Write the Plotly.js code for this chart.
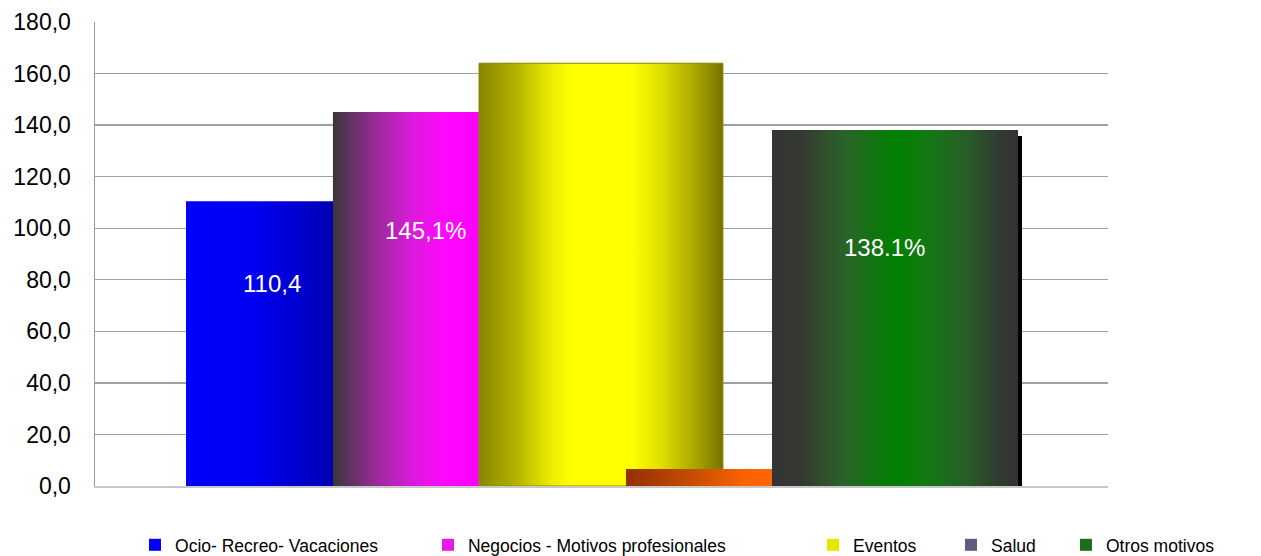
<!DOCTYPE html>
<html>
<head>
<meta charset="utf-8">
<script src="https://cdn.plot.ly/plotly-3.0.1.min.js"></script>
<style>
  html, body { margin: 0; padding: 0; background: #ffffff; }
  #chart { width: 1261px; height: 556px; }
</style>
</head>
<body>
<div id="chart"></div>
<script>
// ---- data ----
const categories = ['Ocio- Recreo- Vacaciones', 'Negocios - Motivos profesionales', 'Eventos', 'Salud', 'Otros motivos'];
const values = [110.4, 145.1, 164.0, 6.6, 138.1];
const valueLabels = ['110,4', '145,1%', '', '', '138.1%'];
const yTickValues = [0, 20, 40, 60, 80, 100, 120, 140, 160, 180];

// ---- layout / style (positions in axis units, not data) ----
const barCenters = [0, 1.003, 2.339, 3.010, 4.353];
const barWidths = [1.007, 1.0, 1.671, 1.0, 1.685];
const labelAnchors = [[0.086, 78.7], [1.14, 99.3], null, null, [4.284, 92.4]];
const legendColors = ['#0000ff', '#e81ae8', '#e6e600', '#5c5c80', '#1b6e1b'];
const legendX = [0.0395, 0.3287, 0.7088, 0.8450, 0.9585];
const gradients = [
  [[0, '#0000ff'], [0.45, '#0000f4'], [1, '#0000b2']],
  [[0, '#383838'], [0.3, '#9a2a9a'], [0.55, '#dc1adc'], [0.78, '#ff08ff'], [1, '#ff00ff']],
  [[0, '#868600'], [0.15, '#b2b200'], [0.3, '#eeee00'], [0.38, '#ffff00'], [0.62, '#ffff00'], [0.75, '#dede00'], [0.9, '#a6a000'], [1, '#747200']],
  [[0, '#933000'], [0.5, '#cc5000'], [0.8, '#f86200'], [1, '#ff6600']],
  [[0, '#333333'], [0.12, '#343a32'], [0.3, '#2a6428'], [0.5, '#008000'], [0.62, '#127a12'], [0.78, '#266026'], [0.92, '#323a32'], [1, '#333333']]
];
const outlineColors = [null, null, '#8a8a00', null, null];
const FONT = 'Liberation Sans, Arial, sans-serif';

const traces = [];
const legendNames = ['legend', 'legend2', 'legend3', 'legend4', 'legend5'];

// legend-bearing bar traces (base layer)
categories.forEach((c, i) => {
  traces.push({
    type: 'bar',
    name: c,
    x: [barCenters[i]],
    y: [values[i]],
    width: [barWidths[i]],
    marker: { color: legendColors[i], line: { width: 0 } },
    legend: legendNames[i],
    hoverinfo: 'skip'
  });
});

// gradient overlays drawn from the same values
categories.forEach((c, i) => {
  const x0 = barCenters[i] - barWidths[i] / 2;
  const x1 = barCenters[i] + barWidths[i] / 2;
  if (i === 4) {
    // drop shadow for last bar
    const dx = 4 / 146, dy = 6 * 180 / 464;
    traces.push({
      type: 'scatter', mode: 'lines', showlegend: false, hoverinfo: 'skip',
      x: [x0 + dx, x0 + dx, x1 + dx, x1 + dx, x0 + dx],
      y: [0, values[i] - dy, values[i] - dy, 0, 0],
      fill: 'toself', fillcolor: '#000000', line: { width: 0 }
    });
  }
  traces.push({
    type: 'scatter', mode: 'lines', showlegend: false, hoverinfo: 'skip',
    x: [x0, x0, x1, x1, x0],
    y: [0, values[i], values[i], 0, 0],
    fill: 'toself',
    fillgradient: { type: 'horizontal', colorscale: gradients[i] },
    line: outlineColors[i] ? { width: 1, color: outlineColors[i] } : { width: 0 }
  });
});

const annotations = [];
valueLabels.forEach((t, i) => {
  if (!t) return;
  annotations.push({
    x: labelAnchors[i][0], y: labelAnchors[i][1], xref: 'x', yref: 'y',
    text: t, showarrow: false,
    font: { family: FONT, size: 24, color: '#ffffff' }
  });
});

const layout = {
  width: 1261, height: 556,
  margin: { l: 95, r: 153, t: 22, b: 70, autoexpand: false },
  paper_bgcolor: '#ffffff', plot_bgcolor: '#ffffff',
  separators: ',.',
  barmode: 'overlay',
  font: { family: FONT, color: '#000000' },
  xaxis: {
    range: [-1.127, 5.812], showticklabels: false, showgrid: false, zeroline: false,
    showline: true, linecolor: '#c8c8c8', linewidth: 2, ticks: '', fixedrange: true
  },
  yaxis: {
    range: [0, 180], tickvals: yTickValues, tickformat: '.1f',
    showgrid: true, gridcolor: '#a0a0a0', gridwidth: 1.3, zeroline: false,
    showline: true, linecolor: '#999999', linewidth: 1.5,
    ticks: 'outside', ticklen: 18, tickcolor: 'rgba(0,0,0,0)',
    tickfont: { family: FONT, size: 23, color: '#000000' }, fixedrange: true
  },
  annotations: annotations
};

legendNames.forEach((ln, i) => {
  layout[ln] = {
    orientation: 'h', x: legendX[i], y: -0.127, xanchor: 'left', yanchor: 'middle',
    bgcolor: 'rgba(0,0,0,0)', borderwidth: 0,
    font: { family: FONT, size: 17.5, color: '#000000' }
  };
});

Plotly.newPlot('chart', traces, layout, { displayModeBar: false, staticPlot: true });
</script>
</body>
</html>
